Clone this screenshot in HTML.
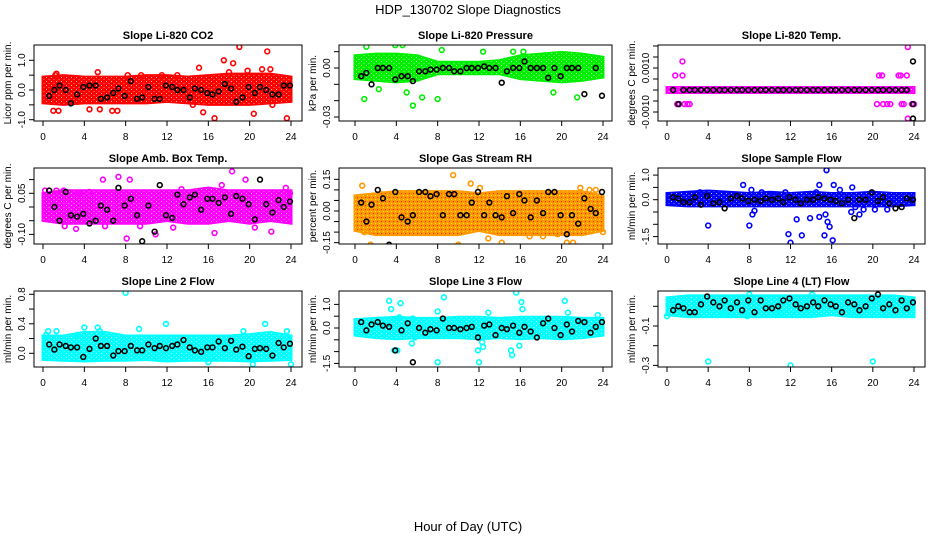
<!DOCTYPE html>
<html><head><meta charset="utf-8"><style>
body{margin:0;background:#fff;}
svg{display:block;font-family:"Liberation Sans",sans-serif;}
</style></head><body>
<svg id="chart" width="936" height="540" viewBox="0 0 936 540">
<defs>
<pattern id="speckle" width="5" height="4" patternUnits="userSpaceOnUse">
<rect x="1" y="1" width="1" height="1" fill="#fff" opacity="0.7"/>
<rect x="3.5" y="3" width="1" height="1" fill="#fff" opacity="0.5"/>
</pattern>
<pattern id="speckleRed" width="4" height="4" patternUnits="userSpaceOnUse">
<rect x="1" y="1" width="1" height="1" fill="#ff2200"/>
<rect x="3" y="3" width="1" height="1" fill="#ffee00"/>
</pattern>
</defs>
<text x="468" y="14" text-anchor="middle" font-size="13">HDP_130702  Slope Diagnostics</text>
<text x="468" y="531" text-anchor="middle" font-size="13">Hour of Day (UTC)</text>
</svg>
<script>
const xTicks=[0,4,8,12,16,20,24];
const bandHours=[0,2,4,6,8,10,12,14,16,18,20,22,24];
const blackHours=[0.6,1.1,1.6,2.2,2.7,3.3,3.9,4.5,5.1,5.6,6.2,6.8,7.3,7.9,8.5,9.1,9.6,10.2,10.8,11.3,11.9,12.5,13.0,13.6,14.2,14.7,15.3,15.9,16.4,17.0,17.6,18.2,18.7,19.3,19.9,20.5,21.0,21.6,22.2,22.8,23.3,23.9];

const titles=["Slope Li-820 CO2","Slope Li-820 Pressure","Slope Li-820 Temp.","Slope Amb. Box Temp.","Slope Gas Stream RH","Slope Sample Flow","Slope Line 2 Flow","Slope Line 3 Flow","Slope Line 4 (LT) Flow"];
const yTitles=["Licor ppm per min.","kPa per min.","degrees C per min.","degrees C per min.","percent per min.","ml/min per min.","ml/min per min.","ml/min per min.","ml/min per min."];
const colors=["#ff0000","#00ee00","#ff00ff","#ff00ff","#ff9900","#0000ff","#00ffff","#00ffff","#00ffff"];

const yTickVals=[[-1,-0.5,0,0.5,1],[0.01,0,-0.01,-0.02,-0.03],[0.002,0.0015,0.001,0.0005,0,-0.0005,-0.001],[0.1,0.05,0,-0.05,-0.1],[0.15,0.1,0.05,0,-0.05,-0.1,-0.15],[1,0.5,0,-0.5,-1,-1.5],[0.8,0.6,0.4,0.2,0],[1,0.5,0,-0.5,-1,-1.5],[0,-0.1,-0.2,-0.3]];
const yTickLabels=[[[-1,"-1.0"],[0,"0.0"],[1,"1.0"]],[[0,"0.00"],[-0.03,"-0.03"]],[[0.001,"0.0010"],[-0.001,"-0.0010"]],[[0.05,"0.05"],[-0.1,"-0.10"]],[[0.15,"0.15"],[0,"0.00"],[-0.15,"-0.15"]],[[1,"1.0"],[0,"0.0"],[-1.5,"-1.5"]],[[0.8,"0.8"],[0.4,"0.4"],[0,"0.0"]],[[1,"1.0"],[0,"0.0"],[-1.5,"-1.5"]],[[-0.1,"-0.1"],[-0.3,"-0.3"]]];

const bandLo=[
[-0.35,-0.4,-0.35,-0.35,-0.35,-0.35,-0.3,-0.35,-0.4,-0.4,-0.4,-0.35,-0.3],
[-0.005,-0.006,-0.007,-0.006,-0.002,-0.002,-0.002,-0.002,-0.005,-0.006,-0.007,-0.006,-0.004],
[0,0,0,0,0,0,0,0,0,0,0,0,0],
[-0.04,-0.05,-0.05,-0.05,-0.05,-0.05,-0.04,-0.05,-0.05,-0.04,-0.05,-0.04,-0.05],
[-0.08,-0.1,-0.1,-0.1,-0.1,-0.1,-0.08,-0.1,-0.1,-0.1,-0.1,-0.1,-0.08],
[-0.1,-0.15,-0.15,-0.15,-0.15,-0.15,-0.15,-0.15,-0.15,-0.15,-0.15,-0.15,-0.1],
[-0.05,-0.06,-0.07,-0.06,-0.06,-0.05,-0.07,-0.06,-0.06,-0.06,-0.07,-0.06,-0.05],
[-0.2,-0.3,-0.35,-0.3,-0.3,-0.3,-0.35,-0.3,-0.35,-0.3,-0.35,-0.3,-0.2],
[-0.03,-0.04,-0.04,-0.04,-0.04,-0.04,-0.04,-0.04,-0.03,-0.04,-0.04,-0.04,-0.04]];
const bandHi=[
[0.35,0.4,0.35,0.35,0.35,0.4,0.4,0.35,0.4,0.45,0.45,0.45,0.35],
[0.006,0.007,0.007,0.006,0.002,0.002,0.002,0.003,0.006,0.007,0.008,0.007,0.005],
[0,0,0,0,0,0,0,0,0,0,0,0,0],
[0.04,0.05,0.05,0.05,0.05,0.05,0.05,0.05,0.06,0.05,0.05,0.05,0.05],
[0.06,0.07,0.08,0.08,0.08,0.08,0.07,0.08,0.08,0.08,0.08,0.08,0.06],
[0.15,0.2,0.25,0.2,0.15,0.2,0.15,0.2,0.15,0.15,0.2,0.15,0.15],
[0.2,0.2,0.25,0.25,0.2,0.2,0.2,0.2,0.2,0.2,0.22,0.25,0.2],
[0.25,0.3,0.35,0.3,0.3,0.35,0.35,0.3,0.35,0.35,0.35,0.3,0.3],
[0.03,0.04,0.04,0.04,0.04,0.04,0.04,0.04,0.04,0.04,0.04,0.04,0.03]];

const outliers=[
[[1,-0.7],[1.3,0.55],[1.2,0.5],[1.5,-0.7],[4.5,-0.65],[5.3,0.6],[5.5,-0.65],[6.7,-0.7],[7.2,-0.7],[8.2,0.5],[14.5,-0.5],[15.1,0.75],[15.5,-0.75],[16.6,-0.95],[17.5,1.0],[18.0,0.6],[18.4,0.9],[19,1.45],[19.8,0.65],[20.4,-0.8],[21.2,0.7],[21.7,1.3],[22,0.7],[22.2,-0.5],[23.6,-0.95],[9.5,0.5],[11.5,0.5],[13,0.5]],
[[1.1,0.013],[0.9,-0.019],[3.9,0.014],[4.6,0.014],[5.6,-0.023],[5.8,0.016],[6.5,-0.018],[7.7,0.018],[8,-0.019],[8,-0.047],[8.4,0.011],[16,-0.042],[15.3,0.01],[16.3,0.01],[22.5,0.018],[24,-0.046],[19.2,-0.015],[21.5,-0.018],[2.3,-0.013],[5,-0.015],[12.4,0.01]],
[[0.8,0.00066],[1.0,-0.00064],[1.2,-0.00064],[1.5,0.0013],[1.5,0.00066],[1.7,-0.00064],[2.0,-0.00064],[2.2,-0.00064],[20.4,-0.00064],[20.6,0.00066],[20.9,0.00066],[21,-0.00064],[21.4,-0.00064],[21.7,-0.00064],[22.5,0.00066],[22.7,0.00066],[22.8,-0.00064],[23.0,-0.00064],[23.3,0.00066],[23.4,0.00195],[23.4,-0.0013],[23.8,-0.00064],[24,-0.00064]],
[[1.3,0.06],[2,0.06],[2.1,-0.07],[3.2,-0.08],[4.5,0.055],[5.8,0.1],[6,-0.07],[7.3,0.11],[8.4,0.1],[8.1,-0.115],[9.4,-0.07],[10.9,-0.1],[12.6,-0.075],[13.4,0.065],[16.6,-0.095],[17.3,0.08],[18.3,0.13],[19.6,0.1],[20.5,-0.075],[22.1,-0.09],[23.5,0.07],[23.9,0.05],[0.2,0.06],[3.5,0.05]],
[[0.7,0.12],[1.5,-0.16],[2.5,0.08],[3.5,0.08],[7.8,-0.17],[8,-0.17],[9.5,0.17],[10,-0.16],[11.2,0.13],[12.1,0.11],[12.9,-0.13],[14.2,-0.15],[18.2,-0.12],[19.6,-0.11],[20.5,-0.15],[21.1,-0.15],[21.8,0.11],[22.7,0.1],[23.3,0.1],[24,-0.1],[16.9,-0.12],[0.9,-0.1]],
[[4,-1.05],[7.4,0.6],[8,-1.05],[8.2,0.4],[8.3,-0.6],[8.5,-0.45],[9.2,0.3],[11.8,-1.4],[12,-1.75],[12.6,-0.8],[13.1,-1.45],[13.9,-0.75],[14.5,0.3],[14.8,0.6],[14.8,-0.7],[15.3,-1.45],[15.4,-0.6],[15.5,1.2],[15.6,-0.9],[15.8,-1.1],[16.1,-1.65],[16.2,0.6],[16.8,0.4],[18,0.5],[17.9,-0.5],[18.3,-0.3],[18.7,-0.6],[19.1,-0.4],[20.2,-0.4],[21.4,-0.4],[3.2,0.3],[10.4,0.2],[11.5,0.3]],
[[8,0.82],[0.5,0.3],[1.3,0.3],[4,0.35],[5.3,0.35],[9.3,0.33],[11.9,0.4],[19.4,0.3],[21.5,0.4],[23.6,0.3],[20.3,-0.15],[24,-0.15],[16,-0.12],[0.3,0.25],[3.3,0.25],[5.5,0.3]],
[[3.3,1.15],[3.5,0.8],[3.8,-0.95],[4.1,-0.95],[4.3,0.45],[4.4,1.05],[5.6,0.4],[5.5,-0.65],[5.8,-0.4],[8,0.7],[8,-1.45],[8.6,1.3],[11.9,-0.95],[12,-1.45],[12.3,-0.6],[12.4,-0.8],[12.9,0.65],[15.1,-0.95],[15.2,-1.15],[15.6,1.5],[15.9,-0.75],[16.1,1.1],[16.2,0.8],[20.3,1.15],[20.6,0.65],[23.5,0.55],[19.3,-0.3],[21.3,0.35]],
[[4,-0.28],[12,-0.3],[20,-0.28],[8,0.06],[14.1,0.06],[0,-0.05],[5.5,-0.04],[7.8,-0.05],[10.8,-0.04]]];

const blackVals=[
[-0.2,0,0.15,0,-0.45,-0.15,0.1,0.15,0.15,-0.3,-0.25,-0.1,0.05,-0.2,0.3,-0.3,-0.25,0.1,-0.3,-0.3,0.15,0.1,0,0,-0.25,0.05,0,-0.1,-0.15,-0.05,0.2,0.05,-0.4,-0.25,0.1,-0.1,0.1,0,-0.15,-0.15,0.15,0.15],
[-0.005,-0.003,-0.01,0,0,0,-0.007,-0.005,-0.005,-0.008,-0.002,-0.002,-0.001,-0.001,0,0,-0.002,-0.002,0,0,0,0.001,0,0,-0.009,-0.002,0,0,0.004,0,0,0,-0.006,0,-0.005,0,0,0,-0.016,0.018,0,-0.017],
[0,-0.00064,0,0,0,0,0,0,0,0,0,0,0,0,0,0,0,0,0,0,0,0,0,0,0,0,0,0,0,0,0,0,0,0,0,0,0,0,0,0,0,0.0013],
[0.06,0,-0.05,0.055,-0.03,-0.035,-0.025,-0.06,-0.05,0.005,-0.01,-0.05,0.07,0.005,0.03,-0.03,-0.125,0.005,-0.09,0.08,-0.03,-0.04,0.045,0.01,0.035,0.045,-0.01,0.03,0.03,0.015,0.035,-0.025,0.04,0.03,0.01,-0.045,0.1,0.01,-0.02,0.025,0,0.02],
[0.04,-0.05,0.03,0.1,0.06,-0.16,0.09,-0.03,-0.05,-0.02,0.09,0.09,0.07,0.08,-0.02,0.08,0.08,-0.02,-0.02,0.04,0.09,-0.02,0.04,-0.02,-0.03,0.07,-0.01,0.08,0.05,-0.03,0.05,-0.01,0.09,0.09,-0.02,-0.11,-0.02,-0.06,0.06,0.01,-0.01,0.09],
[0.1,0.05,-0.1,-0.1,0.1,-0.2,0.15,-0.15,-0.1,-0.35,0.05,0.15,0.05,-0.05,0,-0.05,0.05,0,0.05,-0.1,0.1,0,-0.15,0,0,0.1,0.05,0,-0.05,-0.15,0,-0.75,0,0,0.3,-0.05,0.1,-0.15,-0.35,-0.3,0.05,0],
[0.12,0.05,0.12,0.1,0.08,0.08,-0.05,0.06,0.2,0.1,0.1,-0.03,0.03,0.03,0.1,0.04,0.04,0.12,0.07,0.1,0.07,0.1,0.12,0.18,0.08,0.04,0.02,0.08,0.08,0.16,0.07,0.17,0.05,0.09,-0.04,0.06,0.07,0.06,-0.03,0.14,0.08,0.13],
[0.25,-0.1,0.15,0.25,0.1,0.05,-0.95,-0.1,0.2,-1.45,0,-0.2,-0.05,-0.1,0.4,0,0,-0.05,0,0.05,-0.4,0.1,0.15,-0.3,0,-0.05,0.1,-0.2,0.05,-0.15,-0.4,0.2,0.4,0,-0.3,0.15,-0.15,0.3,0.25,-0.2,0.05,0.25],
[-0.02,0,-0.01,-0.03,-0.03,0.01,0.05,0.02,0,0.03,-0.01,0.02,-0.02,0.03,-0.03,0.03,-0.01,-0.01,0,0.03,0.04,0.01,-0.01,0,0.02,0,0.03,0.01,0,-0.03,0.02,0.01,-0.02,0,0.04,0.06,-0.01,0.01,-0.02,0.03,-0.01,0.02]];
const blackExtra=[[],[],[[23.9,-0.00064],[23.9,-0.0013]],[],[],[],[],[],[]];

// layout (pixels)
const colBox=[[34,302,43,291],[339,612,355,603],[658,925,667,914]];
const rowBox=[[45,121],[168,244],[291,367]];
const yZero=[90,68,90,207,211,199.7,353.3,328,306.3];
const yScale=[29.7,1633,22000,274,211,24.6,73.75,23.6,197];

const NS="http://www.w3.org/2000/svg";
const svg=document.getElementById('chart');
function mk(tag,attrs,parent){const e=document.createElementNS(NS,tag);for(const k in attrs)e.setAttribute(k,attrs[k]);(parent||svg).appendChild(e);return e;}

for(let p=0;p<9;p++){
  const c=colBox[p%3], r=rowBox[Math.floor(p/3)];
  const [L,R,X0,X24]=c,[T,B]=r;
  const xs=h=>X0+h*(X24-X0)/24;
  const ys=v=>yZero[p]-v*yScale[p];
  const g=mk('g',{});
  
  
  const clip=mk('clipPath',{id:'clip'+p},g);
  mk('rect',{x:L,y:T,width:R-L,height:B-T},clip);
  const t=mk('text',{x:(L+R)/2,y:T-6,'text-anchor':'middle','font-size':'11','font-weight':'bold'},g);
  t.textContent=titles[p];
  
  
  const yt=mk('text',{transform:`translate(${L-23},${(T+B)/2}) rotate(-90)`,'text-anchor':'middle','font-size':'10'},g);
  yt.textContent=yTitles[p];
  
  
  const plot=mk('g',{'clip-path':`url(#clip${p})`},g);
  let top=[],bot=[];
  for(let i=0;i<bandHours.length;i++){top.push(xs(bandHours[i])+','+(ys(bandHi[p][i])-2.5));bot.unshift(xs(bandHours[i])+','+(ys(bandLo[p][i])+2.5));}
  const pts=top.concat(bot).join(' ');
  const band=mk('polygon',{points:pts,fill:colors[p],stroke:colors[p],'stroke-width':'3'},plot);
  
  
  const tex=mk('polygon',{points:pts,fill:p===4?'url(#speckleRed)':'url(#speckle)',stroke:'none'},plot);
  
  
  for(const [h,v] of outliers[p]){
    const pt=mk('circle',{cx:xs(h),cy:ys(v),r:2.4,fill:'none',stroke:colors[p],'stroke-width':'1.6'},plot);
    
    
  }
  const bl=Math.min(blackHours.length,blackVals[p].length);
  const blk=[];
  for(let i=0;i<bl;i++)blk.push([blackHours[i],blackVals[p][i]]);
  for(const e of blackExtra[p])blk.push(e);
  for(const [h,v] of blk){
    const pt=mk('circle',{cx:xs(h),cy:ys(v),r:2.4,fill:'none',stroke:'#000','stroke-width':'1.6'},plot);
    
    
  }
  const box=mk('rect',{x:L,y:T,width:R-L,height:B-T,fill:'none',stroke:'#000','stroke-width':'1'},g);
  
  
  mk('line',{x1:xs(0),x2:xs(24),y1:B,y2:B,stroke:'#000'},g);
  for(const h of xTicks){
    mk('line',{x1:xs(h),x2:xs(h),y1:B,y2:B+5,stroke:'#000'},g);
    const tl=mk('text',{x:xs(h),y:B+19,'text-anchor':'middle','font-size':'10'},g);
    tl.textContent=h;
    
    
  }
  const tv=yTickVals[p];
  mk('line',{x1:L,x2:L,y1:ys(Math.max(...tv)),y2:ys(Math.min(...tv)),stroke:'#000'},g);
  for(const v of tv){mk('line',{x1:L-5,x2:L,y1:ys(v),y2:ys(v),stroke:'#000'},g);}
  for(const [v,s] of yTickLabels[p]){
    const tl=mk('text',{transform:`translate(${L-9},${ys(v)}) rotate(-90)`,'text-anchor':'middle','font-size':'10'},g);
    tl.textContent=s;
    
    
  }
}
</script>
</body></html>
